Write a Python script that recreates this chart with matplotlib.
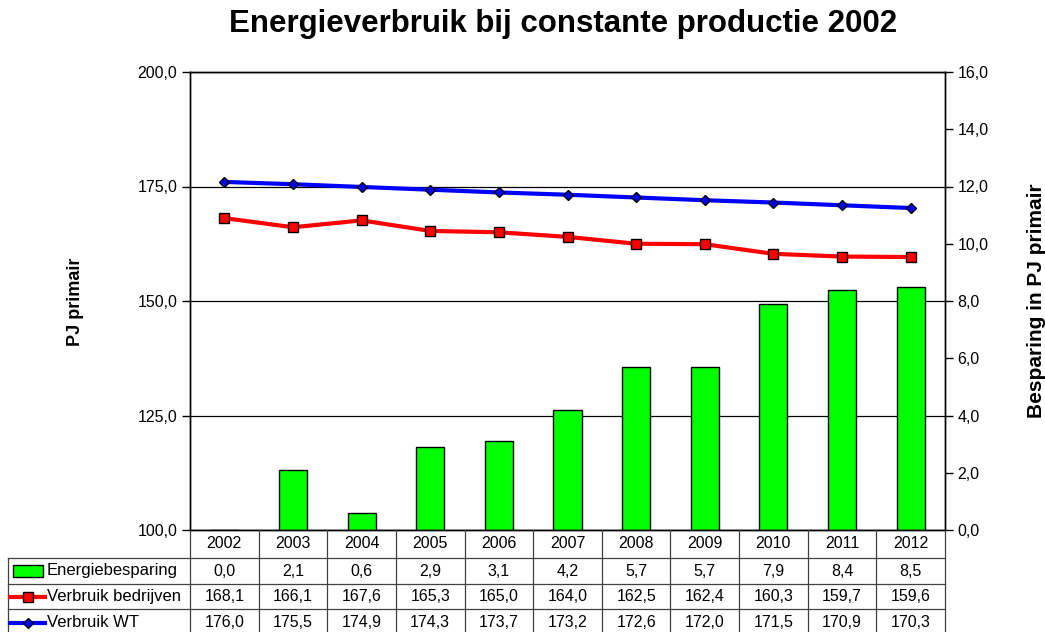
import matplotlib
matplotlib.use('Agg')
import matplotlib.pyplot as plt
from matplotlib.transforms import blended_transform_factory
from matplotlib.lines import Line2D
from matplotlib.patches import Rectangle
from matplotlib.ticker import FuncFormatter, MultipleLocator

plt.rcParams['font.family'] = ['Liberation Sans', 'DejaVu Sans']

# data
years = [2002, 2003, 2004, 2005, 2006, 2007, 2008, 2009, 2010, 2011, 2012]
besparing = [0.0, 2.1, 0.6, 2.9, 3.1, 4.2, 5.7, 5.7, 7.9, 8.4, 8.5]
verbruik_bedrijven = [168.1, 166.1, 167.6, 165.3, 165.0, 164.0, 162.5, 162.4, 160.3, 159.7, 159.6]
verbruik_wt = [176.0, 175.5, 174.9, 174.3, 173.7, 173.2, 172.6, 172.0, 171.5, 170.9, 170.3]
row_labels = ['Energiebesparing', 'Verbruik bedrijven', 'Verbruik WT']

W, H = 1045, 632
def fx(px): return px / W
def fy(py): return 1 - py / H

def nl(v):
    return f"{v:.1f}".replace('.', ',')

fig = plt.figure(figsize=(W / 100, H / 100), dpi=100)
ax = fig.add_axes([fx(190), fy(530), fx(945) - fx(190), fy(72) - fy(530)])
ax2 = ax.twinx()

x = list(range(len(years)))

# left axis: lines + grid
ax.plot(x, verbruik_bedrijven, color='#FF0000', lw=3, marker='s', ms=7,
        mfc='#FF0000', mec='black', mew=1, zorder=3)
ax.plot(x, verbruik_wt, color='#0000FF', lw=3, marker='D', ms=5,
        mfc='#0000FF', mec='black', mew=1, zorder=3)
ax.set_ylim(100, 200)
ax.set_xlim(-0.5, len(years) - 0.5)
ax.yaxis.set_major_locator(MultipleLocator(25))
ax.yaxis.set_major_formatter(FuncFormatter(lambda v, p: nl(v)))
ax.grid(axis='y', color='black', lw=0.9)
ax.set_xticks([])
ax.tick_params(axis='y', direction='out', length=6, width=1, labelsize=11.5, pad=3)

# right axis: bars
ax2.bar(x, besparing, width=0.41, color='#00FF00', edgecolor='black', lw=1, zorder=2)
ax2.set_ylim(0, 16)
ax2.yaxis.set_major_locator(MultipleLocator(2))
ax2.yaxis.set_major_formatter(FuncFormatter(lambda v, p: nl(v)))
ax2.tick_params(axis='y', direction='out', length=6, width=1, labelsize=11.5, pad=3)
ax2.set_xlim(-0.5, len(years) - 0.5)

for a in (ax, ax2):
    for s in a.spines.values():
        s.set_color('black')
        s.set_linewidth(1)

fig.text(fx(563), fy(32), 'Energieverbruik bij constante productie 2002',
         ha='center', va='baseline', fontsize=22.5, fontweight='bold')
fig.text(fx(75), fy(302), 'PJ primair', rotation=90, ha='center', va='center',
         fontsize=13, fontweight='bold')
fig.text(fx(1036), fy(301), 'Besparing in PJ primair', rotation=90, ha='center',
         va='center', fontsize=15, fontweight='bold')

# data table below the plot
trans = blended_transform_factory(ax.transData, fig.transFigure)
row_edges = [530, 558, 584, 609, 636]
lc = '#404040'
for i in range(len(years) + 1):
    fig.add_artist(Line2D([i - 0.5, i - 0.5], [fy(530), fy(636)], transform=trans,
                          color=lc, lw=0.9))
for e in row_edges[1:-1]:
    fig.add_artist(Line2D([fx(8), fx(945)], [fy(e), fy(e)], transform=fig.transFigure,
                          color=lc, lw=0.9))
fig.add_artist(Line2D([fx(8), fx(8)], [fy(558), fy(636)], transform=fig.transFigure,
                      color=lc, lw=0.9))

def row_center(k):
    return fy((row_edges[k] + row_edges[k + 1]) / 2)

for i, yr in enumerate(years):
    fig.text(i, row_center(0), str(yr), transform=trans, ha='center', va='center',
             fontsize=11.5)
for k, series in enumerate([besparing, verbruik_bedrijven, verbruik_wt]):
    for i, v in enumerate(series):
        fig.text(i, row_center(k + 1), nl(v), transform=trans, ha='center',
                 va='center', fontsize=11.5)

# legend keys in the row label column
yc = row_center(1)
fig.add_artist(Rectangle((fx(13), yc - 6 / H), fx(43) - fx(13), 12 / H,
                         transform=fig.transFigure, facecolor='#00FF00',
                         edgecolor='black', lw=1))
fig.add_artist(Line2D([fx(10), fx(45)], [row_center(2)] * 2, transform=fig.transFigure,
                      color='#FF0000', lw=3))
fig.add_artist(Line2D([fx(27.5)], [row_center(2)], transform=fig.transFigure,
                      marker='s', ms=7, mfc='#FF0000', mec='black', mew=1))
fig.add_artist(Line2D([fx(10), fx(45)], [row_center(3)] * 2, transform=fig.transFigure,
                      color='#0000FF', lw=3))
fig.add_artist(Line2D([fx(27.5)], [row_center(3)], transform=fig.transFigure,
                      marker='D', ms=5, mfc='#0000FF', mec='black', mew=1))
for k, lab in enumerate(row_labels):
    fig.text(fx(47), row_center(k + 1), lab, ha='left', va='center', fontsize=12)

fig.savefig('out.png', dpi=100)
